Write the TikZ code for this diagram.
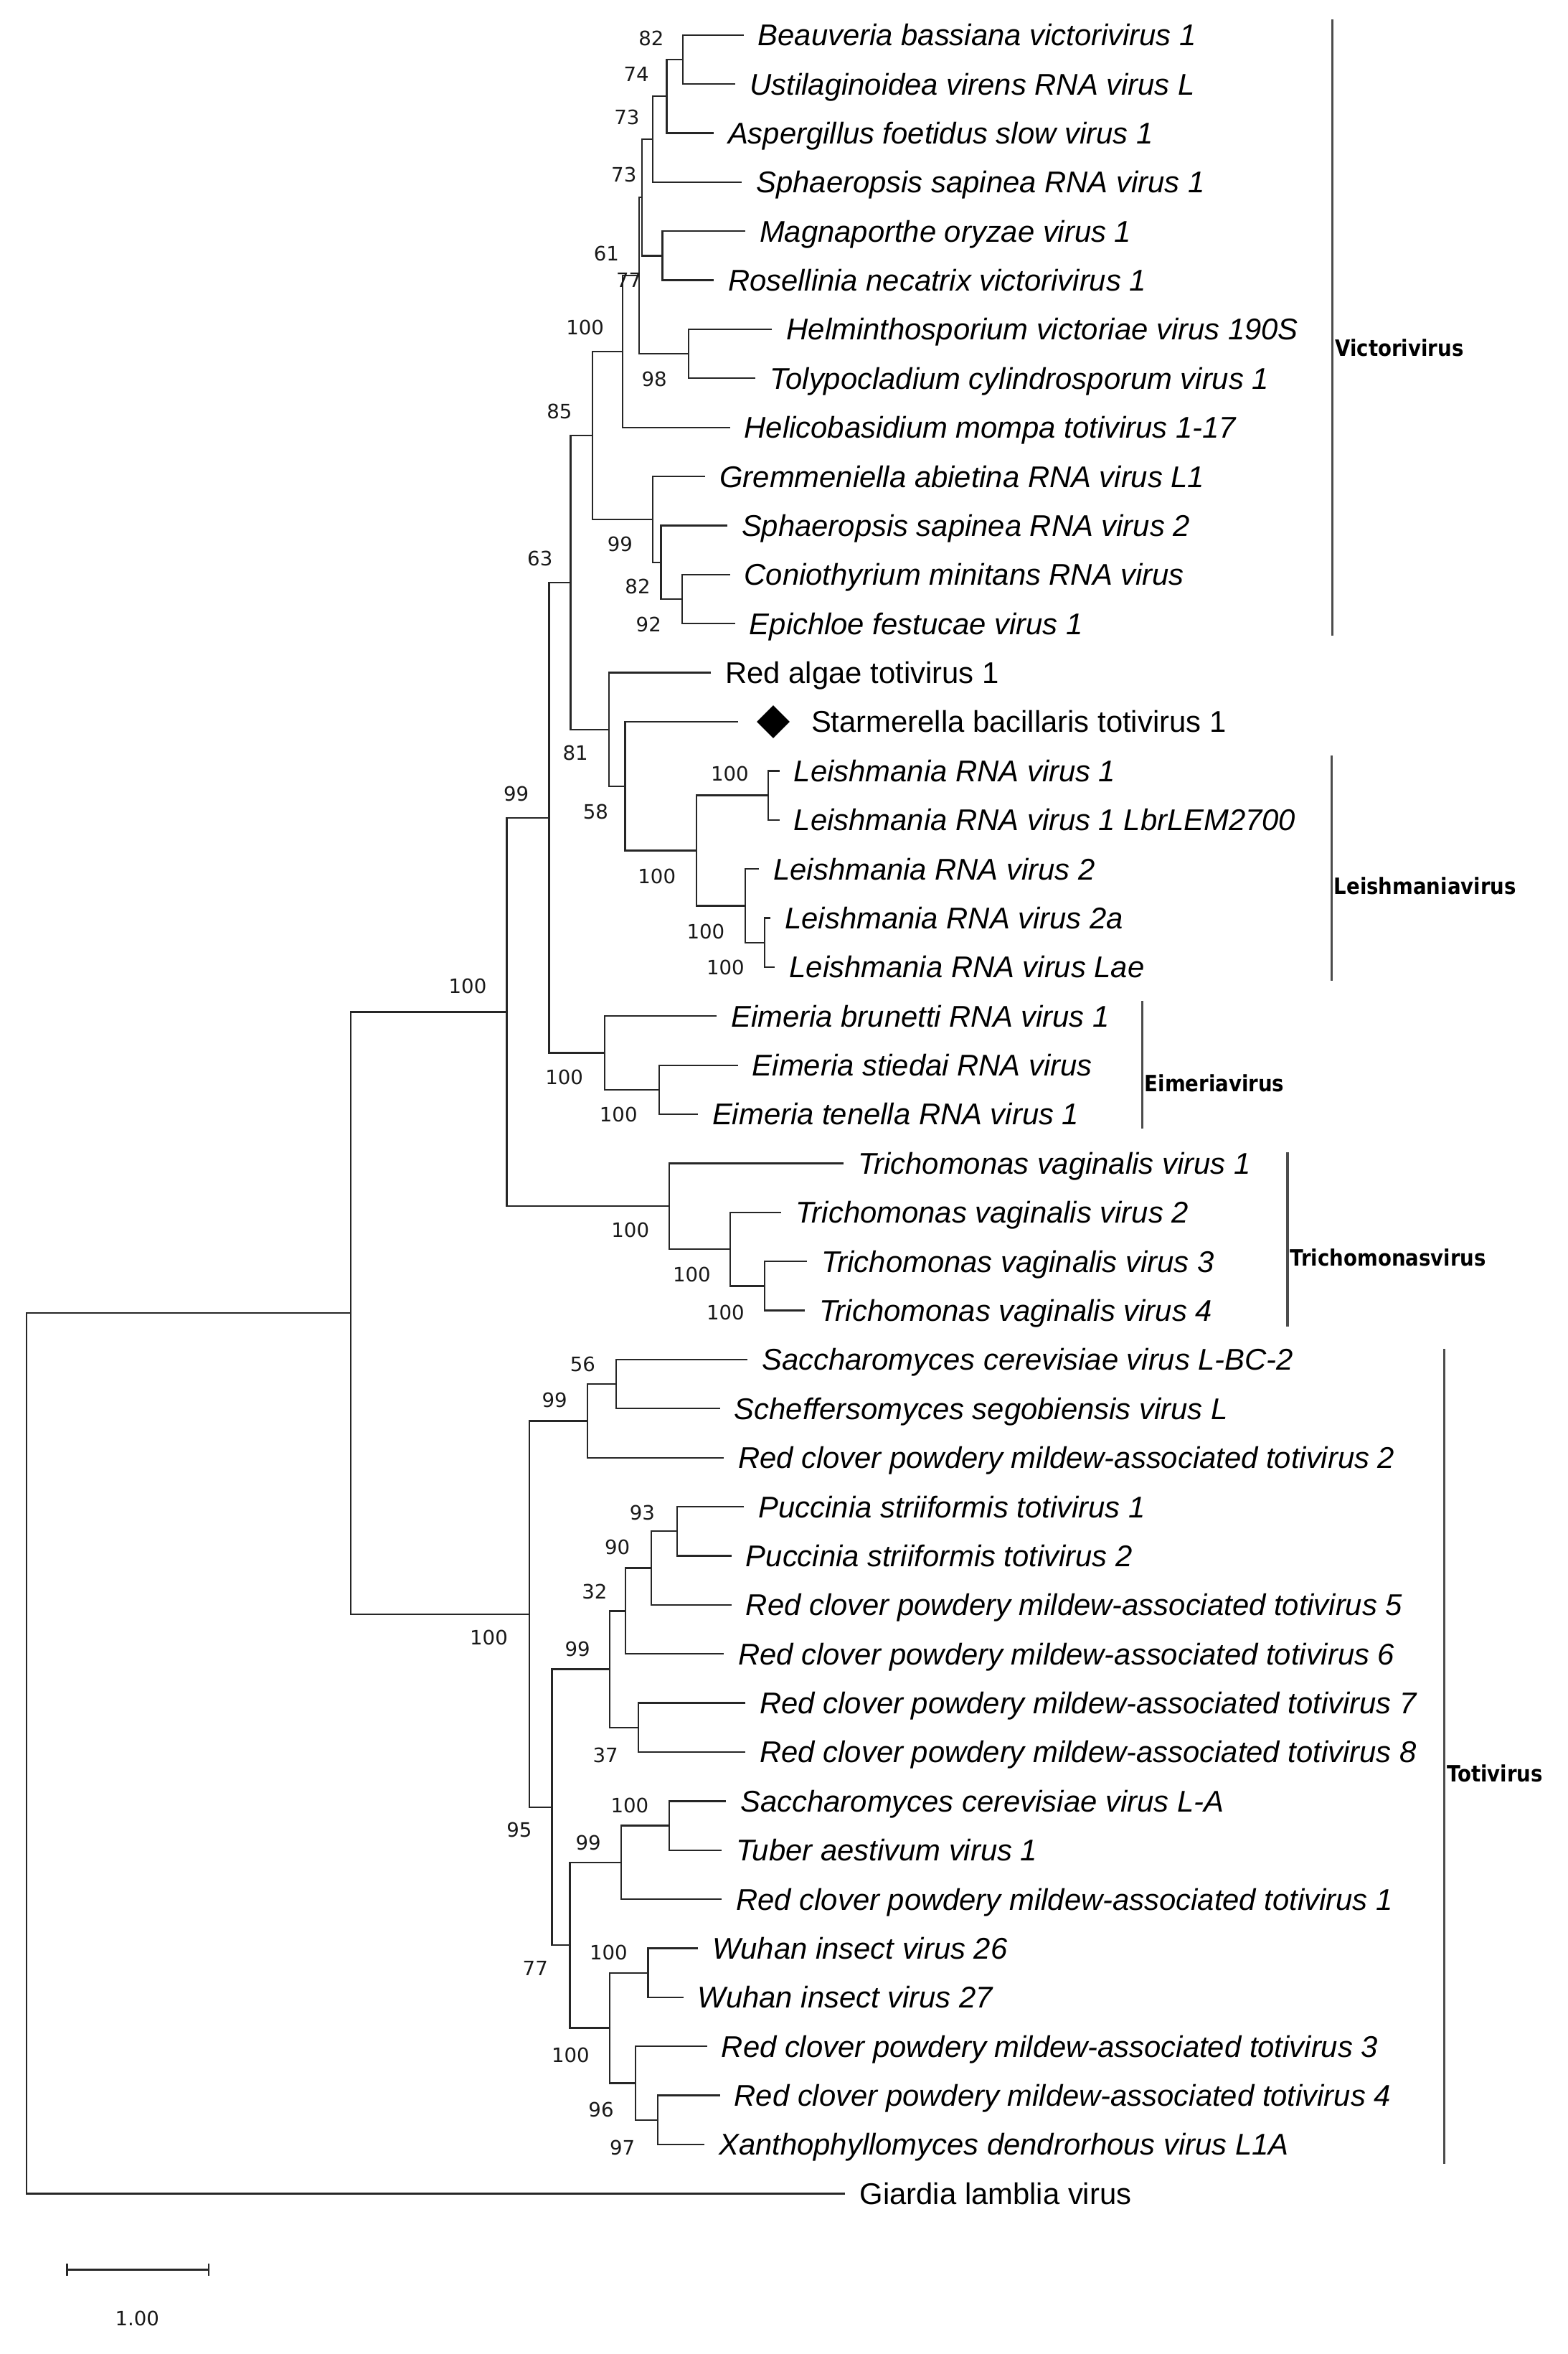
\documentclass[tikz,border=0pt]{standalone}
\usepackage{graphicx}
\usepackage{fontspec}
\setmainfont{Liberation Sans}
\newfontfamily\bootf{DejaVu Sans}
\usetikzlibrary{shapes.geometric}
\newcommand\lf[5][leaf]{\node[#1] (#2) at (#3,{23.3+32.72*(#4-1)}) {#5};}
\newcommand\br[3]{\draw[branch] (#2) -| (#1) |- (#3);}
\newcommand\bv[3]{\node[bs] (#1) at (#2) {#3};}
\begin{document}
\begin{tikzpicture}[x=1pt,y=-1pt,
  branch/.style={draw=black!85,line width=1.1pt},
  leaf/.style={anchor=west,inner xsep=9.5pt,inner ysep=0pt,text height=14.3pt,text depth=0pt,font=\fontsize{20}{22}\selectfont\itshape,text=black},
  leafup/.style={leaf,font=\fontsize{20}{22}\selectfont\upshape},
  bs/.style={inner sep=0pt,text height=9.6pt,text depth=0pt,font=\bootf\fontsize{13.2}{14}\selectfont,text=black!90},
  clade/.style={anchor=west,inner xsep=1.5pt,inner ysep=0pt,text height=11pt,text depth=0pt,font=\bootf\bfseries\fontsize{15}{16}\selectfont},
  bar/.style={draw=black!70,line width=1.5pt}]
\fill[white] (0,0) rectangle (1046,1570);
\useasboundingbox (0,0) rectangle (1046,1570);
% leaves
\lf{beau}{496.0}{1}{Beauveria bassiana victorivirus 1}
\lf{ust}{490.6}{2}{Ustilaginoidea virens RNA virus L}
\lf{asp}{476.0}{3}{Aspergillus foetidus slow virus 1}
\lf{sph1}{494.9}{4}{Sphaeropsis sapinea RNA virus 1}
\lf{mag}{497.1}{5}{Magnaporthe oryzae virus 1}
\lf{ros}{476.0}{6}{Rosellinia necatrix victorivirus 1}
\lf{hel}{515.1}{7}{Helminthosporium victoriae virus 190S}
\lf{tol}{504.1}{8}{Tolypocladium cylindrosporum virus 1}
\lf{hmo}{486.9}{9}{Helicobasidium mompa totivirus 1-17}
\lf{gre}{470.4}{10}{Gremmeniella abietina RNA virus L1}
\lf{sph2}{485.1}{11}{Sphaeropsis sapinea RNA virus 2}
\lf{con}{486.9}{12}{Coniothyrium minitans RNA virus}
\lf{epi}{490.3}{13}{Epichloe festucae virus 1}
\lf[leafup]{red}{474.3}{14}{Red algae totivirus 1}
\coordinate (sta) at (492.2,481.38);
\node[diamond,fill=black,inner sep=0pt,minimum width=22pt,minimum height=22pt] (stam) at (515.8,481.38) {};
\node[leafup,inner xsep=0pt] (stat) at (541,481.38) {Starmerella bacillaris totivirus 1};
\lf{lr1}{520.0}{16}{Leishmania RNA virus 1}
\lf{lbr}{520.0}{17}{Leishmania RNA virus 1 LbrLEM2700}
\lf{lr2}{506.3}{18}{Leishmania RNA virus 2}
\lf{lr2a}{514.0}{19}{Leishmania RNA virus 2a}
\lf{lae}{517.0}{20}{Leishmania RNA virus Lae}
\lf{ebr}{478.1}{21}{Eimeria brunetti RNA virus 1}
\lf{est}{492.2}{22}{Eimeria stiedai RNA virus}
\lf{ete}{465.5}{23}{Eimeria tenella RNA virus 1}
\lf{tv1}{562.6}{24}{Trichomonas vaginalis virus 1}
\lf{tv2}{521.2}{25}{Trichomonas vaginalis virus 2}
\lf{tv3}{538.3}{26}{Trichomonas vaginalis virus 3}
\lf{tv4}{537.0}{27}{Trichomonas vaginalis virus 4}
\lf{lbc}{498.6}{28}{Saccharomyces cerevisiae virus L-BC-2}
\lf{sch}{480.2}{29}{Scheffersomyces segobiensis virus L}
\lf{rc2}{482.7}{30}{Red clover powdery mildew-associated totivirus 2}
\lf{pu1}{496.4}{31}{Puccinia striiformis totivirus 1}
\lf{pu2}{487.9}{32}{Puccinia striiformis totivirus 2}
\lf{rc5}{487.9}{33}{Red clover powdery mildew-associated totivirus 5}
\lf{rc6}{482.7}{34}{Red clover powdery mildew-associated totivirus 6}
\lf{rc7}{497.3}{35}{Red clover powdery mildew-associated totivirus 7}
\lf{rc8}{497.3}{36}{Red clover powdery mildew-associated totivirus 8}
\lf{sla}{484.4}{37}{Saccharomyces cerevisiae virus L-A}
\lf{tub}{481.5}{38}{Tuber aestivum virus 1}
\lf{rc1}{481.5}{39}{Red clover powdery mildew-associated totivirus 1}
\lf{w26}{465.6}{40}{Wuhan insect virus 26}
\lf{w27}{455.8}{41}{Wuhan insect virus 27}
\lf{rc3}{471.6}{42}{Red clover powdery mildew-associated totivirus 3}
\lf{rc4}{480.2}{43}{Red clover powdery mildew-associated totivirus 4}
\lf{xan}{469.9}{44}{Xanthophyllomyces dendrorhous virus L1A}
\lf[leafup]{gia}{563.9}{45}{Giardia lamblia virus}
% internal nodes
\coordinate (n82) at (455.7,39.66);
\coordinate (n74) at (444.8,64.2);
\coordinate (n73) at (435.6,92.83);
\coordinate (nMag) at (441.9,170.54);
\coordinate (nB) at (428.3,131.685);
\coordinate (n98) at (459.4,235.98);
\coordinate (nC) at (426.5,183.83);
\coordinate (nD) at (415.5,234.45);
\coordinate (n82b) at (455.2,399.58);
\coordinate (c99) at (441.0,375.04);
\coordinate (nGr) at (435.6,346.41);
\coordinate (n85) at (395.3,290.43);
\coordinate (nL1) at (512.4,530.46);
\coordinate (nL2a) at (510.1,628.62);
\coordinate (nL2) at (497.1,604.08);
\coordinate (nLe) at (464.7,567.27);
\coordinate (n58) at (417.0,524.33);
\coordinate (n81) at (406.4,486.49);
\coordinate (n63) at (380.7,388.46);
\coordinate (nEs) at (439.6,726.78);
\coordinate (nEi) at (403.3,702.24);
\coordinate (n99) at (366.3,545.35);
\coordinate (nT2) at (510.0,857.66);
\coordinate (nT1) at (487.0,833.12);
\coordinate (nTr) at (446.4,804.49);
\coordinate (nU) at (338.1,674.92);
\coordinate (n56) at (411.0,923.1);
\coordinate (n99t) at (391.8,947.64);
\coordinate (n93) at (451.6,1021.26);
\coordinate (n90) at (434.4,1045.8);
\coordinate (n32) at (417.4,1074.43);
\coordinate (n37) at (425.9,1152.14);
\coordinate (n99b) at (406.7,1113.29);
\coordinate (nLA) at (446.4,1217.58);
\coordinate (n99c) at (414.4,1242.12);
\coordinate (nW) at (432.3,1315.74);
\coordinate (n97) at (438.8,1413.9);
\coordinate (n96) at (423.8,1389.36);
\coordinate (n100w) at (406.7,1352.55);
\coordinate (n77) at (380.2,1297.34);
\coordinate (n95) at (368.2,1205.31);
\coordinate (nTo) at (353.3,1076.48);
\coordinate (nM) at (233.9,875.7);
\coordinate (root) at (17.6,1169.34);
% branches
\br{n82}{beau.west}{ust.west}
\br{n74}{n82}{asp.west}
\br{n73}{n74}{sph1.west}
\br{nMag}{mag.west}{ros.west}
\br{nB}{n73}{nMag}
\br{n98}{hel.west}{tol.west}
\br{nC}{nB}{n98}
\br{nD}{nC}{hmo.west}
\br{n82b}{con.west}{epi.west}
\br{c99}{sph2.west}{n82b}
\br{nGr}{gre.west}{c99}
\br{n85}{nD}{nGr}
\br{nL1}{lr1.west}{lbr.west}
\br{nL2a}{lr2a.west}{lae.west}
\br{nL2}{lr2.west}{nL2a}
\br{nLe}{nL1}{nL2}
\br{n58}{sta}{nLe}
\br{n81}{red.west}{n58}
\br{n63}{n85}{n81}
\br{nEs}{est.west}{ete.west}
\br{nEi}{ebr.west}{nEs}
\br{n99}{n63}{nEi}
\br{nT2}{tv3.west}{tv4.west}
\br{nT1}{tv2.west}{nT2}
\br{nTr}{tv1.west}{nT1}
\br{nU}{n99}{nTr}
\br{n56}{lbc.west}{sch.west}
\br{n99t}{n56}{rc2.west}
\br{n93}{pu1.west}{pu2.west}
\br{n90}{n93}{rc5.west}
\br{n32}{n90}{rc6.west}
\br{n37}{rc7.west}{rc8.west}
\br{n99b}{n32}{n37}
\br{nLA}{sla.west}{tub.west}
\br{n99c}{nLA}{rc1.west}
\br{nW}{w26.west}{w27.west}
\br{n97}{rc4.west}{xan.west}
\br{n96}{rc3.west}{n97}
\br{n100w}{nW}{n96}
\br{n77}{n99c}{n100w}
\br{n95}{n99b}{n77}
\br{nTo}{n99t}{n95}
\br{nM}{nU}{nTo}
\br{root}{nM}{gia.west}
% bootstrap values
\bv{b1}{434.4,25.5}{82}
\bv{b2}{424.5,49.4}{74}
\bv{b3}{418.2,78}{73}
\bv{b4}{416.2,116.5}{73}
\bv{b5}{404.5,169}{61}
\bv{b6}{419.5,187}{77}
\bv{b7}{390.3,218.5}{100}
\bv{b8}{436.5,252.8}{98}
\bv{b9}{373.2,274.3}{85}
\bv{b10}{413.6,362.8}{99}
\bv{b11}{360.2,372.4}{63}
\bv{b12}{425.4,391}{82}
\bv{b13}{432.7,416.3}{92}
\bv{b14}{383.8,502.4}{81}
\bv{b15}{397.4,541.5}{58}
\bv{b16}{344.4,529.5}{99}
\bv{b17}{486.8,515.9}{100}
\bv{b18}{438.2,584.5}{100}
\bv{b19}{470.8,621.2}{100}
\bv{b20}{484,645.1}{100}
\bv{b21}{312,657.6}{100}
\bv{b22}{376.4,718.5}{100}
\bv{b23}{412.6,743.5}{100}
\bv{b24}{420.5,820.6}{100}
\bv{b25}{461.5,850.1}{100}
\bv{b26}{484,875.3}{100}
\bv{b27}{388.7,909.9}{56}
\bv{b28}{370,933.6}{99}
\bv{b29}{428.5,1008.8}{93}
\bv{b30}{411.8,1031.9}{90}
\bv{b31}{396.6,1061.4}{32}
\bv{b32}{326.1,1092.3}{100}
\bv{b33}{385.3,1099.7}{99}
\bv{b34}{403.9,1170.6}{37}
\bv{b35}{420.1,1204.2}{100}
\bv{b36}{346.4,1220.5}{95}
\bv{b37}{392.4,1228.9}{99}
\bv{b38}{406,1302.2}{100}
\bv{b39}{357.1,1312.6}{77}
\bv{b40}{380.6,1370.8}{100}
\bv{b41}{401,1407}{96}
\bv{b42}{415.2,1432.2}{97}
% clade bars
\coordinate (vt) at (889,13); \coordinate (vb) at (889,424);
\draw[bar] (vt) -- (vb);
\node[clade] (vlab) at (889,232) {\scalebox{0.88}[1]{Victorivirus}};
\coordinate (lt) at (888.2,504); \coordinate (lb) at (888.2,654);
\draw[bar] (lt) -- (lb);
\node[clade] (llab) at (888.2,591) {\scalebox{0.88}[1]{Leishmaniavirus}};
\coordinate (et) at (761.9,667.5); \coordinate (eb) at (761.9,752.8);
\draw[bar] (et) -- (eb);
\node[clade] (elab) at (761.9,722.5) {\scalebox{0.88}[1]{Eimeriavirus}};
\coordinate (tt) at (858.9,768.4); \coordinate (tb) at (858.9,884.7);
\draw[bar] (tt) -- (tb);
\node[clade] (tlab) at (858.9,838.8) {\scalebox{0.88}[1]{Trichomonasvirus}};
\coordinate (ot) at (963.5,899.8); \coordinate (ob) at (963.5,1443.4);
\draw[bar] (ot) -- (ob);
\node[clade] (olab) at (963.5,1182.8) {\scalebox{0.88}[1]{Totivirus}};
% scale bar
\coordinate (s1) at (44.7,1513.8); \coordinate (s2) at (139.1,1513.8);
\draw[branch] (s1) -- (s2);
\draw[branch] ([yshift=4pt]s1) -- ([yshift=-4pt]s1);
\draw[branch] ([yshift=4pt]s2) -- ([yshift=-4pt]s2);
\node[bs] (slab) at (91.5,1546.4) {1.00};
\end{tikzpicture}
\end{document}
